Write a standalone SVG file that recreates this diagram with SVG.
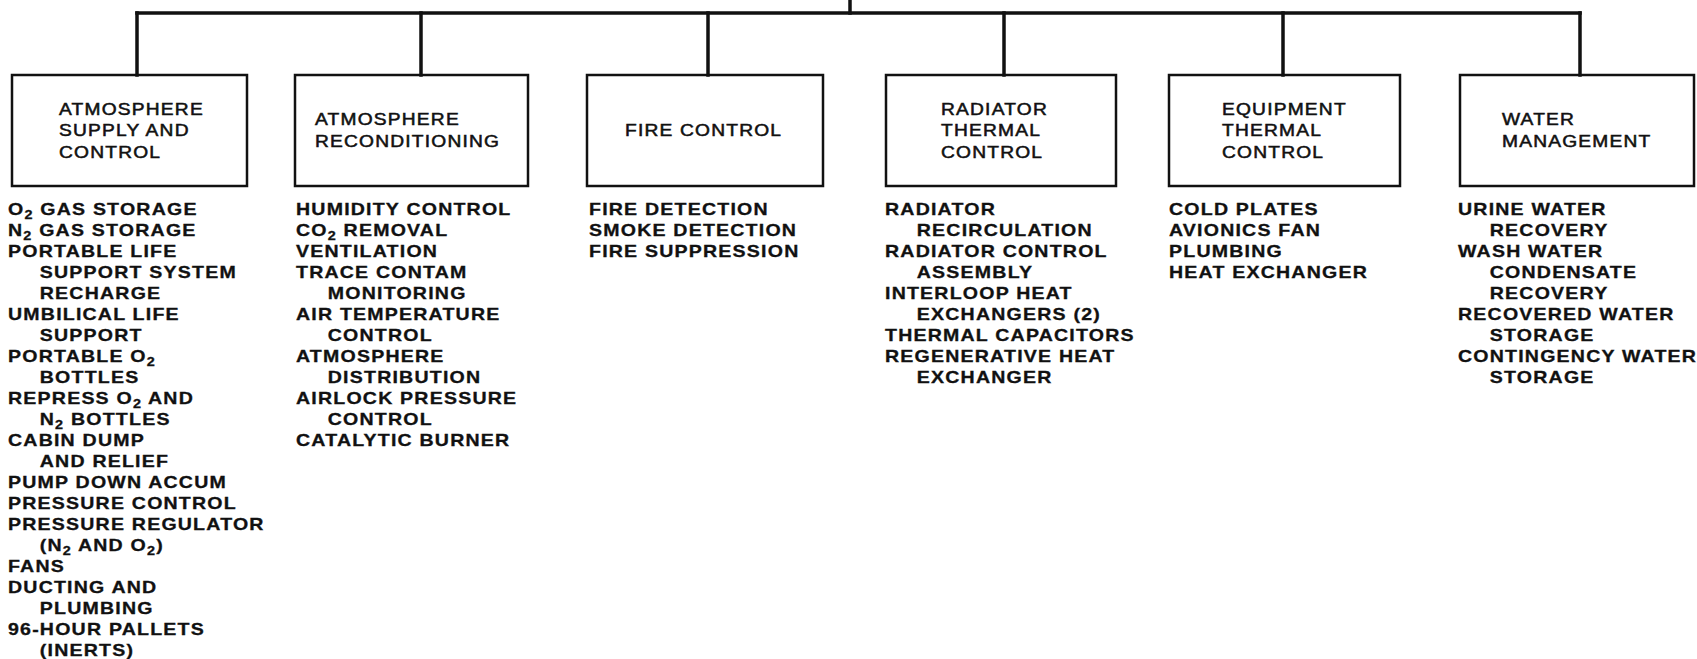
<svg xmlns="http://www.w3.org/2000/svg" width="1697" height="659" viewBox="0 0 1697 659">
  <style>
    .box { fill: none; stroke: #111; stroke-width: 2.5; }
    .wire { fill: none; stroke: #111; stroke-width: 3.5; stroke-linecap: square; }
    .lbl { font-family: "Liberation Sans", Arial, sans-serif; font-size: 16px; letter-spacing: 1px; fill: #111; stroke: #111; stroke-width: 0.5; }
    .item { font-family: "Liberation Sans", Arial, sans-serif; font-size: 16.3px; font-weight: bold; letter-spacing: 1px; fill: #111; stroke: #111; stroke-width: 0.3; }
    .sub { font-size: 12px; }
  </style>
  <rect width="1697" height="659" fill="#fff"/>

  <!-- tree connectors -->
  <g id="connectors">
    <path class="wire" d="M850 0 V13"/>
    <path class="wire" d="M137 13 H1580"/>
    <path class="wire" d="M137 13 V75"/>
    <path class="wire" d="M421 13 V75"/>
    <path class="wire" d="M708 13 V75"/>
    <path class="wire" d="M1004 13 V75"/>
    <path class="wire" d="M1283 13 V75"/>
    <path class="wire" d="M1580 13 V75"/>
  </g>

  <!-- atmosphere supply and control -->
  <g id="atmosphere-supply">
    <rect class="box" x="12" y="75" width="235" height="111"/>
    <text class="lbl" transform="translate(59 0) scale(1.2 1)">
      <tspan x="0" y="115">ATMOSPHERE</tspan>
      <tspan x="0" y="136">SUPPLY AND</tspan>
      <tspan x="0" y="158">CONTROL</tspan>
    </text>
    <text class="item" transform="translate(8 0) scale(1.2 1)">
      <tspan x="0" y="215">O<tspan class="sub" dy="4">2</tspan><tspan dy="-4"> GAS STORAGE</tspan></tspan>
      <tspan x="0" y="236">N<tspan class="sub" dy="4">2</tspan><tspan dy="-4"> GAS STORAGE</tspan></tspan>
      <tspan x="0" y="257">PORTABLE LIFE</tspan>
      <tspan x="26.5" y="278">SUPPORT SYSTEM</tspan>
      <tspan x="26.5" y="299">RECHARGE</tspan>
      <tspan x="0" y="320">UMBILICAL LIFE</tspan>
      <tspan x="26.5" y="341">SUPPORT</tspan>
      <tspan x="0" y="362">PORTABLE O<tspan class="sub" dy="4">2</tspan></tspan>
      <tspan x="26.5" y="383">BOTTLES</tspan>
      <tspan x="0" y="404">REPRESS O<tspan class="sub" dy="4">2</tspan><tspan dy="-4"> AND</tspan></tspan>
      <tspan x="26.5" y="425">N<tspan class="sub" dy="4">2</tspan><tspan dy="-4"> BOTTLES</tspan></tspan>
      <tspan x="0" y="446">CABIN DUMP</tspan>
      <tspan x="26.5" y="467">AND RELIEF</tspan>
      <tspan x="0" y="488">PUMP DOWN ACCUM</tspan>
      <tspan x="0" y="509">PRESSURE CONTROL</tspan>
      <tspan x="0" y="530">PRESSURE REGULATOR</tspan>
      <tspan x="26.5" y="551">(N<tspan class="sub" dy="4">2</tspan><tspan dy="-4"> AND O</tspan><tspan class="sub" dy="4">2</tspan><tspan dy="-4">)</tspan></tspan>
      <tspan x="0" y="572">FANS</tspan>
      <tspan x="0" y="593">DUCTING AND</tspan>
      <tspan x="26.5" y="614">PLUMBING</tspan>
      <tspan x="0" y="635">96-HOUR PALLETS</tspan>
      <tspan x="26.5" y="656">(INERTS)</tspan>
    </text>
  </g>

  <!-- atmosphere reconditioning -->
  <g id="atmosphere-reconditioning">
    <rect class="box" x="295" y="75" width="233" height="111"/>
    <text class="lbl" transform="translate(315 0) scale(1.2 1)">
      <tspan x="0" y="125">ATMOSPHERE</tspan>
      <tspan x="0" y="147">RECONDITIONING</tspan>
    </text>
    <text class="item" transform="translate(296 0) scale(1.2 1)">
      <tspan x="0" y="215">HUMIDITY CONTROL</tspan>
      <tspan x="0" y="236">CO<tspan class="sub" dy="4">2</tspan><tspan dy="-4"> REMOVAL</tspan></tspan>
      <tspan x="0" y="257">VENTILATION</tspan>
      <tspan x="0" y="278">TRACE CONTAM</tspan>
      <tspan x="26.5" y="299">MONITORING</tspan>
      <tspan x="0" y="320">AIR TEMPERATURE</tspan>
      <tspan x="26.5" y="341">CONTROL</tspan>
      <tspan x="0" y="362">ATMOSPHERE</tspan>
      <tspan x="26.5" y="383">DISTRIBUTION</tspan>
      <tspan x="0" y="404">AIRLOCK PRESSURE</tspan>
      <tspan x="26.5" y="425">CONTROL</tspan>
      <tspan x="0" y="446">CATALYTIC BURNER</tspan>
    </text>
  </g>

  <!-- fire control -->
  <g id="fire-control">
    <rect class="box" x="587" y="75" width="236" height="111"/>
    <text class="lbl" transform="translate(625 0) scale(1.2 1)">
      <tspan x="0" y="136">FIRE CONTROL</tspan>
    </text>
    <text class="item" transform="translate(589 0) scale(1.2 1)">
      <tspan x="0" y="215">FIRE DETECTION</tspan>
      <tspan x="0" y="236">SMOKE DETECTION</tspan>
      <tspan x="0" y="257">FIRE SUPPRESSION</tspan>
    </text>
  </g>

  <!-- radiator thermal control -->
  <g id="radiator-thermal">
    <rect class="box" x="886" y="75" width="230" height="111"/>
    <text class="lbl" transform="translate(941 0) scale(1.2 1)">
      <tspan x="0" y="115">RADIATOR</tspan>
      <tspan x="0" y="136">THERMAL</tspan>
      <tspan x="0" y="158">CONTROL</tspan>
    </text>
    <text class="item" transform="translate(885 0) scale(1.2 1)">
      <tspan x="0" y="215">RADIATOR</tspan>
      <tspan x="26.5" y="236">RECIRCULATION</tspan>
      <tspan x="0" y="257">RADIATOR CONTROL</tspan>
      <tspan x="26.5" y="278">ASSEMBLY</tspan>
      <tspan x="0" y="299">INTERLOOP HEAT</tspan>
      <tspan x="26.5" y="320">EXCHANGERS (2)</tspan>
      <tspan x="0" y="341">THERMAL CAPACITORS</tspan>
      <tspan x="0" y="362">REGENERATIVE HEAT</tspan>
      <tspan x="26.5" y="383">EXCHANGER</tspan>
    </text>
  </g>

  <!-- equipment thermal control -->
  <g id="equipment-thermal">
    <rect class="box" x="1169" y="75" width="231" height="111"/>
    <text class="lbl" transform="translate(1222 0) scale(1.2 1)">
      <tspan x="0" y="115">EQUIPMENT</tspan>
      <tspan x="0" y="136">THERMAL</tspan>
      <tspan x="0" y="158">CONTROL</tspan>
    </text>
    <text class="item" transform="translate(1169 0) scale(1.2 1)">
      <tspan x="0" y="215">COLD PLATES</tspan>
      <tspan x="0" y="236">AVIONICS FAN</tspan>
      <tspan x="0" y="257">PLUMBING</tspan>
      <tspan x="0" y="278">HEAT EXCHANGER</tspan>
    </text>
  </g>

  <!-- water management -->
  <g id="water-management">
    <rect class="box" x="1460" y="75" width="234" height="111"/>
    <text class="lbl" transform="translate(1502 0) scale(1.2 1)">
      <tspan x="0" y="125">WATER</tspan>
      <tspan x="0" y="147">MANAGEMENT</tspan>
    </text>
    <text class="item" transform="translate(1458 0) scale(1.2 1)">
      <tspan x="0" y="215">URINE WATER</tspan>
      <tspan x="26.5" y="236">RECOVERY</tspan>
      <tspan x="0" y="257">WASH WATER</tspan>
      <tspan x="26.5" y="278">CONDENSATE</tspan>
      <tspan x="26.5" y="299">RECOVERY</tspan>
      <tspan x="0" y="320">RECOVERED WATER</tspan>
      <tspan x="26.5" y="341">STORAGE</tspan>
      <tspan x="0" y="362">CONTINGENCY WATER</tspan>
      <tspan x="26.5" y="383">STORAGE</tspan>
    </text>
  </g>
</svg>
